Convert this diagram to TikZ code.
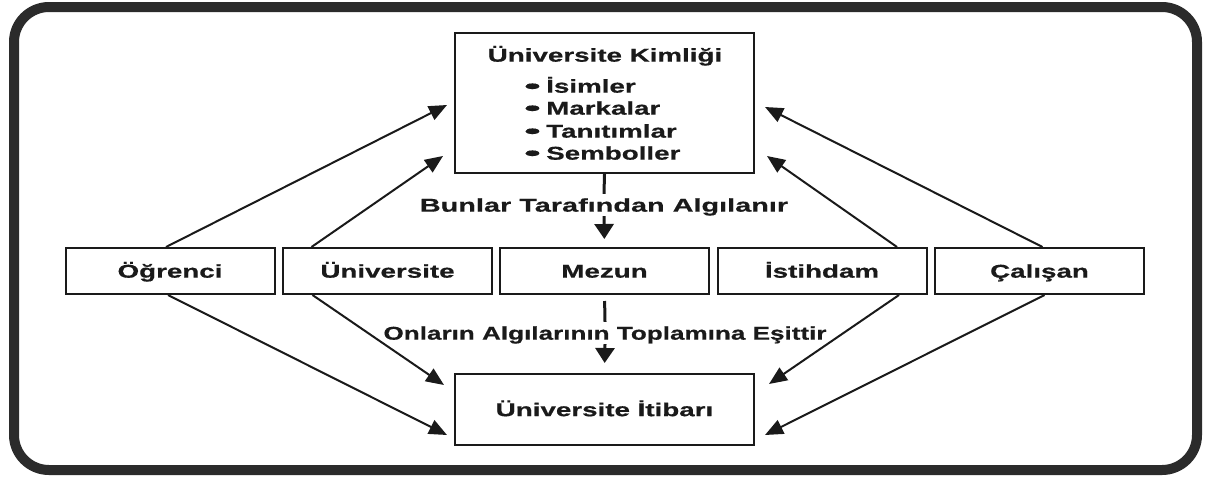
\documentclass[tikz,border=0pt]{standalone}
\usepackage{fontspec}
\newfontfamily\dfont{Liberation Sans}[FakeStretch=1.5,FakeBold=0.6]
\newfontfamily\dfontw{Liberation Sans}[FakeStretch=1.56,FakeBold=0.6]
\newfontfamily\dfontn{Liberation Sans}[FakeStretch=1.41,FakeBold=0.6]
\usetikzlibrary{arrows.meta,calc}
\definecolor{ink}{HTML}{1A1A1A}
\definecolor{framec}{HTML}{2B2B2B}
\newcommand{\blt}{\makebox[22pt][l]{\smash{\scalebox{1.7}[1.05]{•}}}}
\begin{document}
\begin{tikzpicture}[x=1pt,y=-1pt,
  txt/.style={font={\dfont\bfseries\fontsize{18.5}{22}\selectfont}, text=ink, text height=13.3pt, text depth=0pt, inner sep=0pt},
  box/.style={txt, draw=ink, line width=2pt, fill=white, minimum width=209pt, minimum height=46pt},
  bigbox/.style={draw=ink, line width=2pt, fill=white, inner sep=0pt, minimum width=299pt},
  item/.style={txt, anchor=west},
  lbl/.style={txt, minimum height=22pt},
  arr/.style={draw=ink, line width=2pt, -{Triangle[length=18pt,width=15pt]}},
  vline/.style={draw=ink, line width=3pt},
  varr/.style={draw=ink, line width=3pt, -{Triangle[length=15pt,width=19pt]}},
  frame/.style={draw=framec, line width=10pt, rounded corners=35pt}
]
\path[use as bounding box] (0,0) rectangle (1207,477);
\draw[frame] (14,7) rectangle (1197,470);

% top box
\node[bigbox, minimum height=140pt] (top) at (604.5,103) {};
\node[txt] (title) at (605,55) {Üniversite Kimliği};
\node[item] (i1) at (524,86) {\blt İsimler};
\node[item] (i2) at (524,108) {\blt Markalar};
\node[item] (i3) at (524,131) {\blt Tanıtımlar};
\node[item] (i4) at (524,153) {\blt Semboller};

% middle row
\node[box] (ogr) at (170,271) {Öğrenci};
\node[box] (uni) at (387.5,271) {Üniversite};
\node[box] (mez) at (604.5,271) {Mezun};
\node[box] (ist) at (822,271) {İstihdam};
\node[box] (cal) at (1039.5,271) {Çalışan};

% bottom box
\node[box, minimum width=299pt, minimum height=71pt] (bot) at (604.5,409.5) {Üniversite İtibarı};

% labels
\node[lbl, font={\dfontw\bfseries\fontsize{18.5}{22}\selectfont}] (l1) at (604,205) {Bunlar Tarafından Algılanır};
\node[lbl, font={\dfontn\bfseries\fontsize{18.5}{22}\selectfont}] (l2) at (605,333) {Onların Algılarının Toplamına Eşittir};

% vertical connectors
\draw[vline] (top.south) -- (l1.north);
\draw[varr, shorten >=8pt] (l1.south) -- (mez.north);
\draw[vline, shorten <=6pt] (mez.south) -- (l2.north);
\draw[varr, shorten >=10pt] (l2.south) -- (bot.north);

% arrow tips
\coordinate (tA) at (447,105);
\coordinate (tB) at (443,156);
\coordinate (tC) at (767,156);
\coordinate (tD) at (765,107);
\coordinate (bA) at (447,435);
\coordinate (bB) at (444,385);
\coordinate (bC) at (769,384);
\coordinate (bD) at (765,435);

% upward arrows
\draw[arr] ($(ogr.north)+(-4,0)$) -- (tA);
\draw[arr] ($(uni.north)+(-76,0)$) -- (tB);
\draw[arr] ($(ist.north)+(75,0)$) -- (tC);
\draw[arr] ($(cal.north)+(3,0)$) -- (tD);

% downward arrows
\draw[arr] ($(ogr.south)+(-2,0)$) -- (bA);
\draw[arr] ($(uni.south)+(-75,0)$) -- (bB);
\draw[arr] ($(ist.south)+(77,0)$) -- (bC);
\draw[arr] ($(cal.south)+(5,0)$) -- (bD);
\end{tikzpicture}
\end{document}
